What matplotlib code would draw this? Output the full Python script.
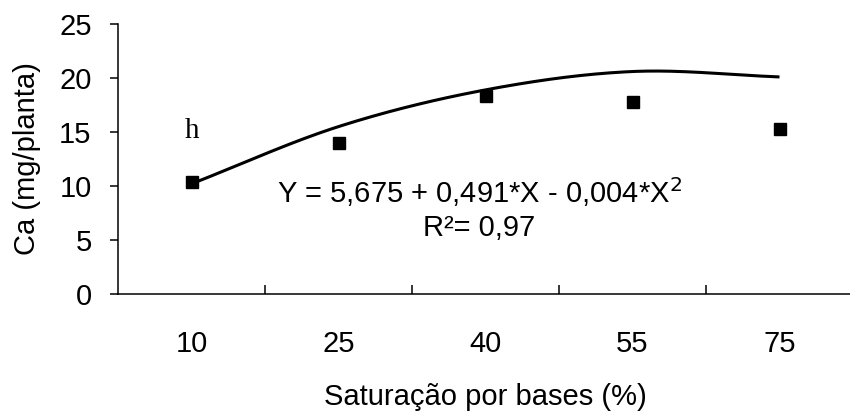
import numpy as np
import matplotlib
matplotlib.use("Agg")
import matplotlib.pyplot as plt

plt.rcParams['font.family'] = ['Liberation Sans', 'DejaVu Sans']

# dados
saturacao = ["10", "25", "40", "55", "75"]
ca_obs = [10.4, 14.0, 18.3, 17.8, 15.3]
ca_ajust = [10.2, 15.5, 18.9, 20.6, 20.1]

equacao = "Y = 5,675 + 0,491*X - 0,004*X$^2$"
r2 = "R²= 0,97"


def suaviza(y, n=40):
    # linha suavizada tipo Excel (Catmull-Rom)
    y = np.asarray(y, dtype=float)
    p = np.concatenate([[2 * y[0] - y[1]], y, [2 * y[-1] - y[-2]]])
    xs, ys = [], []
    for i in range(len(y) - 1):
        p0, p1, p2, p3 = p[i], p[i + 1], p[i + 2], p[i + 3]
        t = np.linspace(0, 1, n)
        yy = 0.5 * ((2 * p1) + (-p0 + p2) * t + (2 * p0 - 5 * p1 + 4 * p2 - p3) * t ** 2
                    + (-p0 + 3 * p1 - 3 * p2 + p3) * t ** 3)
        xs.extend(i + t)
        ys.extend(yy)
    return np.array(xs), np.array(ys)


x = np.arange(len(saturacao))

fig = plt.figure(figsize=(8.5, 4.11), dpi=100)
ax = fig.add_axes([118 / 850, 1 - 294 / 411, 735 / 850, 270 / 411])

xs, ys = suaviza(ca_ajust)
ax.plot(xs, ys, color="black", lw=2.2, solid_capstyle="butt")
ax.plot(x, ca_obs, "s", color="black", markersize=9)

ax.set_xlim(-0.5, 4.5)
ax.set_ylim(0, 25)
ax.set_yticks([0, 5, 10, 15, 20, 25])
ax.set_xticks(x)
ax.set_xticklabels(saturacao)
ax.set_xticks(np.arange(0.5, 4.5, 1), minor=True)

ax.spines["top"].set_visible(False)
ax.spines["right"].set_visible(False)
ax.spines["left"].set_linewidth(1.1)
ax.spines["bottom"].set_linewidth(1.1)

ax.tick_params(axis="y", direction="out", length=6, width=1.1, labelsize=21, pad=13)
ax.tick_params(axis="x", which="major", length=0, labelsize=21, pad=26)
ax.tick_params(axis="x", which="minor", direction="in", length=6.5, width=1.1)

ax.set_xlabel("Saturação por bases (%)", fontsize=21, labelpad=18)
ax.set_ylabel("Ca (mg/planta)", fontsize=21, labelpad=13)

ax.text(0.0, 15.1, "h", fontsize=21, family=["Liberation Serif"], ha="center", va="center")
ax.text(1.96, 9.4, equacao, fontsize=21, ha="center", va="center")
ax.text(1.96, 6.1, r2, fontsize=21, ha="center", va="center")

fig.savefig("out.png", dpi=100)
